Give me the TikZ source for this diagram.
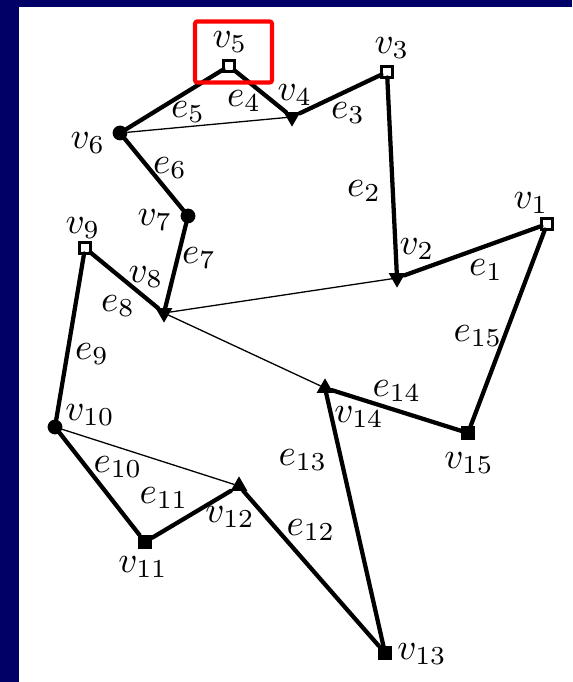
\documentclass[tikz,border=0pt]{standalone}
\usetikzlibrary{shapes.geometric}
\definecolor{navy}{RGB}{0,0,102}
\begin{document}
\begin{tikzpicture}[x=0.27pt,y=-0.27pt,
  vtx/.style={inner sep=0pt,outer sep=0pt},
  opensq/.style={vtx,rectangle,draw=black,fill=white,line width=0.65pt,minimum size=3.0pt},
  fillsq/.style={vtx,rectangle,fill=black,minimum size=3.8pt},
  blackdot/.style={vtx,circle,fill=black,minimum size=4.0pt},
  tridown/.style={vtx,regular polygon,regular polygon sides=3,shape border rotate=180,fill=black,minimum size=5.2pt},
  triup/.style={vtx,regular polygon,regular polygon sides=3,fill=black,minimum size=5.2pt},
  polyedge/.style={line width=1.15pt,line cap=round},
  diag/.style={line width=0.35pt},
  lbl/.style={inner sep=0pt,font=\fontsize{10}{12}\selectfont}
]
\useasboundingbox (0,0) rectangle (572,682);
\fill[navy] (0,0) rectangle (572,682);
\fill[white] (19,7) rectangle (572,682);

% vertices
\node[opensq]   (v1)  at (547,224) {};
\node[tridown]  (v2)  at (397,278) {};
\node[opensq]   (v3)  at (387,72)  {};
\node[tridown]  (v4)  at (292,117) {};
\node[opensq]   (v5)  at (229,66)  {};
\node[blackdot] (v6)  at (120,133) {};
\node[blackdot] (v7)  at (188,216) {};
\node[tridown]  (v8)  at (164,313) {};
\node[opensq]   (v9)  at (85,248)  {};
\node[blackdot] (v10) at (55,427)  {};
\node[fillsq]   (v11) at (145,542) {};
\node[triup]    (v12) at (239,486) {};
\node[fillsq]   (v13) at (385,653) {};
\node[triup]    (v14) at (325,388) {};
\node[fillsq]   (v15) at (468,433) {};

% polygon edges
\draw[polyedge] (v1) -- (v2);
\draw[polyedge] (v2) -- (v3);
\draw[polyedge] (v3) -- (v4);
\draw[polyedge] (v4) -- (v5);
\draw[polyedge] (v5) -- (v6);
\draw[polyedge] (v6) -- (v7);
\draw[polyedge] (v7) -- (v8);
\draw[polyedge] (v8) -- (v9);
\draw[polyedge] (v9) -- (v10);
\draw[polyedge] (v10) -- (v11);
\draw[polyedge] (v11) -- (v12);
\draw[polyedge] (v12) -- (v13);
\draw[polyedge] (v13) -- (v14);
\draw[polyedge] (v14) -- (v15);
\draw[polyedge] (v15) -- (v1);

% diagonals
\draw[diag] (v6) -- (v4);
\draw[diag] (v8) -- (v2);
\draw[diag] (v8) -- (v14);
\draw[diag] (v10) -- (v12);

% vertex labels
\node[lbl] (lv1)  at (531,203) {$v_1$};
\node[lbl] (lv2)  at (417,249) {$v_2$};
\node[lbl] (lv3)  at (392,48)  {$v_3$};
\node[lbl] (lv4)  at (295,95)  {$v_4$};
\node[lbl] (lv5)  at (230,42)  {$v_5$};
\node[lbl] (lv6)  at (88,143)  {$v_6$};
\node[lbl] (lv7)  at (155,220) {$v_7$};
\node[lbl] (lv8)  at (146,277) {$v_8$};
\node[lbl] (lv9)  at (83,228)  {$v_9$};
\node[lbl] (lv10) at (90,415)  {$v_{10}$};
\node[lbl] (lv11) at (143,567) {$v_{11}$};
\node[lbl] (lv12) at (230,517) {$v_{12}$};
\node[lbl] (lv13) at (422,654) {$v_{13}$};
\node[lbl] (lv14) at (359,417) {$v_{14}$};
\node[lbl] (lv15) at (469,463) {$v_{15}$};

% edge labels
\node[lbl] (le1)  at (486,270) {$e_1$};
\node[lbl] (le2)  at (364,191) {$e_2$};
\node[lbl] (le3)  at (348,113) {$e_3$};
\node[lbl] (le4)  at (244,101) {$e_4$};
\node[lbl] (le5)  at (188,112) {$e_5$};
\node[lbl] (le6)  at (170,168) {$e_6$};
\node[lbl] (le7)  at (199,258) {$e_7$};
\node[lbl] (le8)  at (118,306) {$e_8$};
\node[lbl] (le9)  at (92,354)  {$e_9$};
\node[lbl] (le10) at (118,467) {$e_{10}$};
\node[lbl] (le11) at (164,498) {$e_{11}$};
\node[lbl] (le12) at (311,530) {$e_{12}$};
\node[lbl] (le13) at (303,460) {$e_{13}$};
\node[lbl] (le14) at (397,391) {$e_{14}$};
\node[lbl] (le15) at (478,336) {$e_{15}$};

% highlight box
\node[draw=red,line width=1.1pt,rounded corners=0.6pt,minimum width=77*0.27pt,minimum height=61*0.27pt,inner sep=0pt] (hl) at (233.5,52) {};
\end{tikzpicture}
\end{document}
